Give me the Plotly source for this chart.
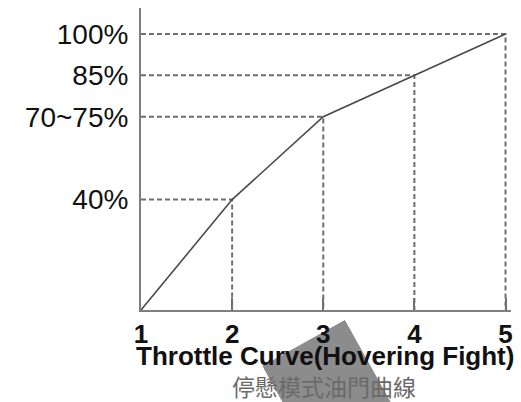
import plotly.graph_objects as go

# Stick position (1 = low, 5 = high) and the throttle output at each point
stick_points = [1, 2, 3, 4, 5]
throttle_pct = [0, 40, 70, 85, 100]
y_tick_vals = [40, 70, 85, 100]
y_tick_labels = ["40%", "70~75%", "85%", "100%"]
x_tick_labels = ["1", "2", "3", "4", "5"]
title_en = "Throttle Curve(Hovering Fight)"
title_zh = "停懸模式油門曲線"

W, H = 521, 402
M = dict(l=141, r=8, t=8, b=92)
plot_w = W - M["l"] - M["r"]
plot_h = H - M["t"] - M["b"]


def px_to_paper(px, py):
    return (px - M["l"]) / plot_w, (H - M["b"] - py) / plot_h


fig = go.Figure()

# Dashed guides: from the y axis across to each point, then down to the x axis
gx, gy = [], []
for x, y in zip(stick_points[1:], throttle_pct[1:]):
    gx += [stick_points[0], x, x, None]
    gy += [y, y, 0, None]
fig.add_trace(go.Scatter(
    x=gx, y=gy, mode="lines", hoverinfo="skip",
    line=dict(color="#6f6f6f", width=2, dash="5px,3px"),
))

# The throttle curve itself
fig.add_trace(go.Scatter(
    x=stick_points, y=throttle_pct, mode="lines",
    line=dict(color="#4a4a4a", width=1.6),
))

# Grey tilted square behind the captions
corners = [(346, 320), (392, 402), (309, 448), (263, 366)]
pts = [px_to_paper(*c) for c in corners]
path = "M " + " L ".join(f"{a:.4f},{b:.4f}" for a, b in pts) + " Z"
fig.add_shape(type="path", path=path, xref="paper", yref="paper",
              fillcolor="#8c8c8c", line=dict(width=0), layer="below")

fig.add_annotation(text=title_en, x=px_to_paper(326, 0)[0], y=px_to_paper(0, 356)[1],
                   xref="paper", yref="paper", showarrow=False,
                   xanchor="center", yanchor="middle",
                   font=dict(family="Liberation Sans, Arial, sans-serif",
                             size=26, color="#111111", weight="bold"))
fig.add_annotation(text=title_zh, x=px_to_paper(325, 0)[0], y=px_to_paper(0, 386)[1],
                   xref="paper", yref="paper", showarrow=False,
                   xanchor="center", yanchor="middle",
                   font=dict(family="Noto Sans CJK TC, sans-serif",
                             size=23, color="#6a6a6a"))

fig.update_layout(
    width=W, height=H, margin=M,
    paper_bgcolor="white", plot_bgcolor="white",
    showlegend=False,
)
fig.update_xaxes(
    range=[1, 5.06], tickvals=stick_points, ticktext=x_tick_labels,
    showgrid=False, zeroline=False,
    showline=True, linecolor="#7f7f7f", linewidth=2,
    ticks="inside", ticklen=12, tickwidth=2, tickcolor="#6f6f6f",
    ticklabelstandoff=0,
    tickfont=dict(family="Liberation Sans, Arial, sans-serif", size=26,
                  color="#111111", weight="bold"),
)
fig.update_yaxes(
    range=[0, 109.4], tickvals=y_tick_vals, ticktext=y_tick_labels,
    showgrid=False, zeroline=False,
    showline=True, linecolor="#7f7f7f", linewidth=2,
    ticks="", ticklabelstandoff=5,
    tickfont=dict(family="Liberation Sans, Arial, sans-serif", size=28,
                  color="#111111"),
)

fig.write_html("out.html")
